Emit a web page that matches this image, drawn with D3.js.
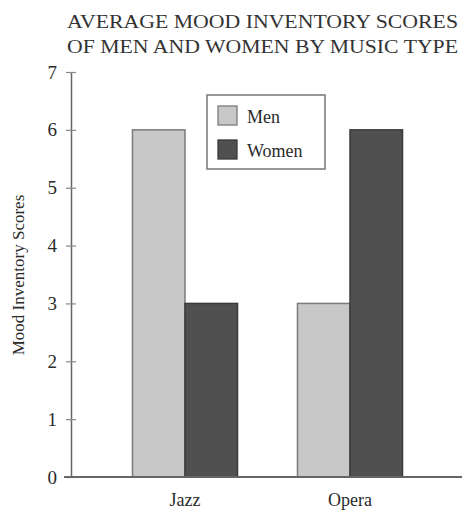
<!DOCTYPE html>
<html><head><meta charset="utf-8">
<script src="https://cdn.jsdelivr.net/npm/d3@7/dist/d3.min.js"></script>
<style>body{margin:0;background:#fff}svg{display:block}text{font-family:"Liberation Serif","Times New Roman",serif}</style>
</head><body><svg id="c" width="466" height="514"></svg>
<script>
const categories = ["Jazz", "Opera"];
const seriesNames = ["Men", "Women"];
const menValues = [6, 3];
const womenValues = [3, 6];
const yTicks = [0, 1, 2, 3, 4, 5, 6, 7];
const titleLines = ["AVERAGE MOOD INVENTORY SCORES", "OF MEN AND WOMEN BY MUSIC TYPE"];
const yLabel = "Mood Inventory Scores";

const colors = {Men: "#c8c8c8", Women: "#505050"};
const strokes = {Men: "#7a7a7a", Women: "#3a3a3a"};
const values = {Men: menValues, Women: womenValues};

const svg = d3.select("#c");
const y = d3.scaleLinear().domain([0, 7]).range([477, 72]);
const x0 = d3.scaleBand().domain(categories).range([102.5, 432.5]).padding(0);
const x1 = d3.scaleBand().domain(seriesNames).range([0, x0.bandwidth()]).paddingInner(0).paddingOuter(0.571);

// title
svg.selectAll("text.title").data(titleLines).join("text")
  .attr("class", "title")
  .attr("x", 67).attr("y", (d, i) => 28 + i * 25)
  .attr("font-size", 19).attr("fill", "#333")
  .attr("textLength", 391).attr("lengthAdjust", "spacingAndGlyphs")
  .text(d => d);

// bars
const g = svg.append("g");
categories.forEach((c, ci) => {
  seriesNames.forEach(s => {
    g.append("rect")
      .attr("x", x0(c) + x1(s))
      .attr("y", y(values[s][ci]))
      .attr("width", x1.bandwidth())
      .attr("height", y(0) - y(values[s][ci]))
      .attr("fill", colors[s])
      .attr("stroke", strokes[s]).attr("stroke-width", 1.5);
  });
});

// y axis
const yAxis = d3.axisLeft(y).tickValues(yTicks).tickSize(0).tickPadding(14).tickFormat(d3.format("d"));
const ya = svg.append("g").attr("transform", "translate(71,0)").call(yAxis);
ya.select(".domain").attr("stroke", "#666").attr("stroke-width", 1.5);
ya.selectAll(".tick text").attr("font-size", 19).attr("fill", "#2a2a2a").attr("font-family", "Liberation Serif");
ya.selectAll(".tick").append("line").attr("x1", -5).attr("x2", 5).attr("stroke", "#888").attr("stroke-width", 1.2);

// x axis line
svg.append("line").attr("x1", 64).attr("x2", 462).attr("y1", y(0)).attr("y2", y(0))
  .attr("stroke", "#666").attr("stroke-width", 1.8);
// x labels
svg.selectAll("text.cat").data(categories).join("text")
  .attr("class", "cat")
  .attr("x", d => x0(d) + x0.bandwidth() / 2).attr("y", 506)
  .attr("text-anchor", "middle").attr("font-size", 18).attr("fill", "#2a2a2a")
  .text(d => d);

// y label
svg.append("text").attr("transform", "translate(24,275) rotate(-90)")
  .attr("text-anchor", "middle").attr("font-size", 17).attr("fill", "#2a2a2a").text(yLabel);

// legend
const lg = svg.append("g");
lg.append("rect").attr("x", 207).attr("y", 95).attr("width", 118).attr("height", 74)
  .attr("fill", "#fff").attr("stroke", "#777").attr("stroke-width", 1.5);
seriesNames.forEach((s, i) => {
  lg.append("rect").attr("x", 218).attr("y", 106 + i * 34).attr("width", 19).attr("height", 19)
    .attr("fill", colors[s]).attr("stroke", strokes[s]).attr("stroke-width", 1.3);
  lg.append("text").attr("x", 247).attr("y", 123 + i * 34).attr("font-size", 18).attr("fill", "#2a2a2a").text(s);
});
</script></body></html>
